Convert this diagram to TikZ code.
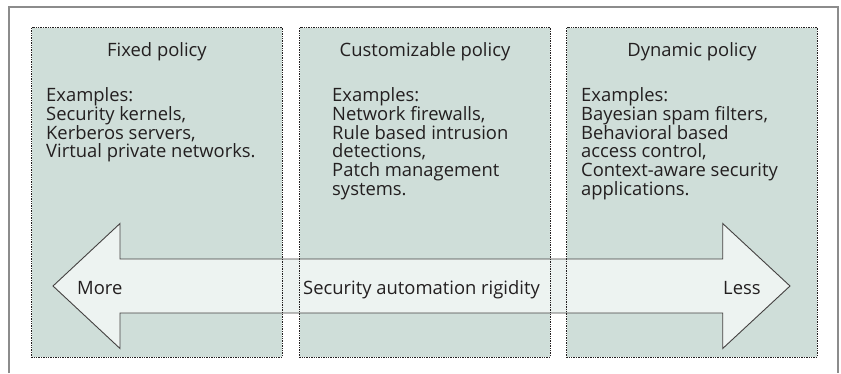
\documentclass[tikz,border=0pt]{standalone}
\usepackage{fontspec}
\setmainfont{Open Sans}
\definecolor{boxgreen}{RGB}{207,222,217}
\definecolor{arrowfill}{RGB}{237,243,241}
\definecolor{txt}{RGB}{35,31,32}
\definecolor{framegray}{RGB}{140,140,140}
\tikzset{
  boxfill/.style={rectangle, fill=boxgreen, draw=none, inner sep=0pt,
    minimum width=250pt, minimum height=329pt},
  boxline/.style={draw=txt, line width=1pt, dash pattern=on 1.4pt off 1pt},
  frameline/.style={draw=framegray, line width=1.4pt},
  arrowshape/.style={fill=arrowfill, draw=txt!85, line width=0.9pt, line join=miter},
  title/.style={anchor=base, inner sep=0pt, text=txt, font=\fontsize{18.4pt}{18.7pt}\selectfont},
  body/.style={anchor=base west, inner sep=0pt, align=left, text=txt,
    font=\fontsize{18.4pt}{18.7pt}\selectfont},
  lbl/.style={inner sep=0pt, text=txt, font=\fontsize{18.4pt}{18.7pt}\selectfont}
}
\begin{document}
\begin{tikzpicture}[x=1pt,y=-1pt]
\useasboundingbox (0,0) rectangle (841,373);
\fill[white] (0,0) rectangle (841,373);
% outer frame
\draw[frameline] (9,373) -- (9,7) -- (838,7) -- (838,373);
% box fills
\node[boxfill] (b1) at (157,192.5) {};
\node[boxfill] (b2) at (425,192.5) {};
\node[boxfill] (b3) at (692,192.5) {};
% arrow
\draw[arrowshape] (53,286) -- (120,223.5) -- (120,259) -- (722.7,259) -- (722.7,223.5)
  -- (790,286) -- (722.7,348.5) -- (722.7,313) -- (120,313) -- (120,348.5) -- cycle;
% box borders
\draw[boxline] (b1.north west) rectangle (b1.south east);
\draw[boxline] (b2.north west) rectangle (b2.south east);
\draw[boxline] (b3.north west) rectangle (b3.south east);
% titles
\node[title] (t1) at (157,56.5) {Fixed policy};
\node[title] (t2) at (425,56.5) {Customizable policy};
\node[title] (t3) at (692,56.5) {Dynamic policy};
% bodies (anchor on the baseline of the last line)
\node[body] (e1) at (46,157.8) {Examples:\\Security kernels,\\Kerberos servers,\\Virtual private networks.};
\node[body] (e2) at (332,195.2) {Examples:\\Network firewalls,\\Rule based intrusion\\detections,\\Patch management\\systems.};
\node[body] (e3) at (581,195.2) {Examples:\\Bayesian spam filters,\\Behavioral based\\access control,\\Context-aware security\\applications.};
% arrow labels
\node[lbl, anchor=base west] (more) at (77,294) {More};
\node[lbl, anchor=base] (rig) at (421.5,294) {Security automation rigidity};
\node[lbl, anchor=base west] (less) at (723,294) {Less};
\end{tikzpicture}
\end{document}
